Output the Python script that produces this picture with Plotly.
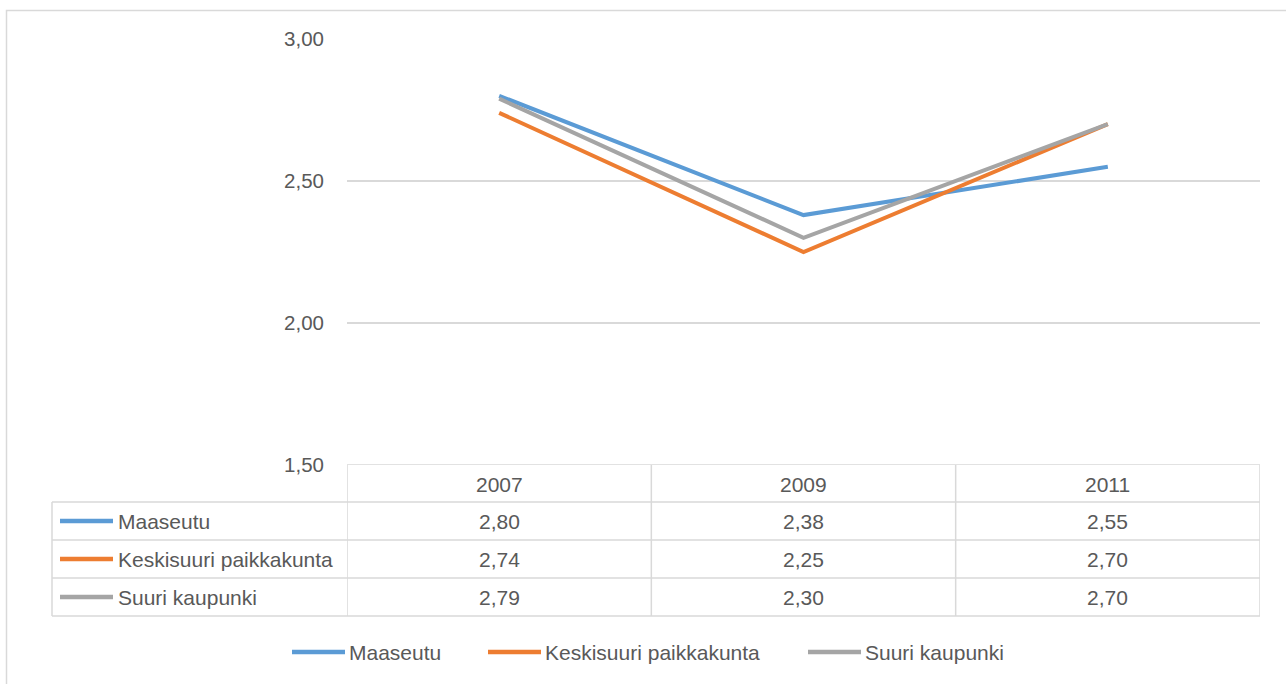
import plotly.graph_objects as go

years = ["2007", "2009", "2011"]
series_names = ["Maaseutu", "Keskisuuri paikkakunta", "Suuri kaupunki"]
maaseutu = [2.80, 2.38, 2.55]
keskisuuri = [2.74, 2.25, 2.70]
suuri = [2.79, 2.30, 2.70]
colors = ["#5b9bd5", "#ed7d31", "#a5a5a5"]
y_ticks = [1.5, 2.0, 2.5, 3.0]

series_values = [maaseutu, keskisuuri, suuri]

W, H = 1286, 684
L, R, T, B = 347, 1260, 39, 465  # plot area in pixels
FONT = "Liberation Sans"
TXT = "#595959"
GRID = "#d9d9d9"
FS = 21


def px2x(px):
    return (px - L) / (R - L)


def px2y(py):
    return (B - py) / (B - T)


def fmt(v):
    return f"{v:.2f}".replace(".", ",")


fig = go.Figure()
for name, vals, c in zip(series_names, series_values, colors):
    fig.add_trace(go.Scatter(x=years, y=vals, mode="lines", name=name,
                             line=dict(color=c, width=4), showlegend=False))

shapes = []
annotations = []

# outer chart border (right and bottom edges fall outside the picture)
shapes.append(dict(type="rect", xref="paper", yref="paper",
                   x0=px2x(6.5), x1=px2x(1292), y0=px2y(692), y1=px2y(10.5),
                   line=dict(color=GRID, width=1.5), layer="below"))

# table top line = axis minimum
shapes.append(dict(type="line", xref="paper", yref="y", x0=0, x1=1,
                   y0=y_ticks[0], y1=y_ticks[0], line=dict(color=GRID, width=1.5)))

# data table
row_tops = [465, 502, 540, 578, 616]
for xb in [-0.5, 0.5, 1.5, 2.5]:
    shapes.append(dict(type="line", xref="x", yref="paper", x0=xb, x1=xb,
                       y0=px2y(465), y1=px2y(616), line=dict(color=GRID, width=1.5)))
shapes.append(dict(type="line", xref="paper", yref="paper", x0=px2x(52), x1=px2x(52),
                   y0=px2y(502), y1=px2y(616), line=dict(color=GRID, width=1.5)))
for ry in row_tops[1:]:
    shapes.append(dict(type="line", xref="paper", yref="paper", x0=px2x(52), x1=1,
                       y0=px2y(ry), y1=px2y(ry), line=dict(color=GRID, width=1.5)))

# header (category index positions on the x axis)
for i, yr in enumerate(years):
    annotations.append(dict(x=i, xref="x", y=px2y(484), yref="paper", text=yr,
                            showarrow=False, xanchor="center", yanchor="middle",
                            font=dict(family=FONT, size=FS, color=TXT)))
# rows
for r, (name, vals, c) in enumerate(zip(series_names, series_values, colors)):
    cy = (row_tops[r + 1] + row_tops[r + 2]) / 2
    shapes.append(dict(type="line", xref="paper", yref="paper",
                       x0=px2x(60), x1=px2x(113), y0=px2y(cy), y1=px2y(cy),
                       line=dict(color=c, width=4.5)))
    annotations.append(dict(x=px2x(116), xref="paper", y=px2y(cy), yref="paper",
                            text=name, showarrow=False, xanchor="left", yanchor="middle",
                            font=dict(family=FONT, size=FS, color=TXT)))
    for i, v in enumerate(vals):
        annotations.append(dict(x=i, xref="x", y=px2y(cy), yref="paper", text=fmt(v),
                                showarrow=False, xanchor="center", yanchor="middle",
                                font=dict(family=FONT, size=FS, color=TXT)))

# bottom legend
leg_y = 652
leg_pos = [(292, 345, 347), (488, 541, 543), (808, 861, 863)]
for (a, b, t), name, c in zip(leg_pos, series_names, colors):
    shapes.append(dict(type="line", xref="paper", yref="paper",
                       x0=px2x(a), x1=px2x(b), y0=px2y(leg_y), y1=px2y(leg_y),
                       line=dict(color=c, width=4.5)))
    annotations.append(dict(x=px2x(t), xref="paper", y=px2y(leg_y), yref="paper",
                            text=name, showarrow=False, xanchor="left", yanchor="middle",
                            font=dict(family=FONT, size=FS, color=TXT)))

fig.update_layout(
    width=W, height=H,
    margin=dict(l=L, r=W - R, t=T, b=H - B),
    paper_bgcolor="white", plot_bgcolor="white",
    separators=", ",
    shapes=shapes, annotations=annotations,
    xaxis=dict(type="category", range=[-0.5, 2.5], showticklabels=False,
               showgrid=False, zeroline=False, showline=False, ticks=""),
    yaxis=dict(range=[1.5, 3.0], tickvals=y_ticks, tickformat=".2f",
               showgrid=True, gridcolor=GRID, gridwidth=1.5, zeroline=False,
               showline=False, ticks="", ticklabelstandoff=22,
               tickfont=dict(family=FONT, size=20.5, color=TXT)),
    font=dict(family=FONT, color=TXT),
)

fig.write_html("out.html", config={"displayModeBar": False},
               post_script="document.body.style.margin='0';document.body.style.overflow='hidden';")
